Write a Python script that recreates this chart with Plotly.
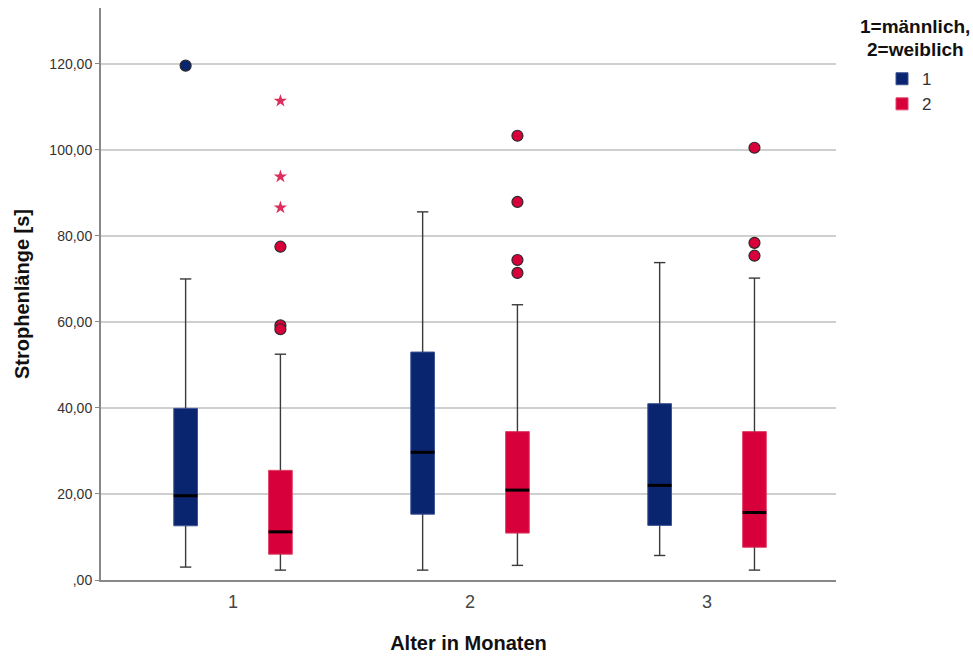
import plotly.graph_objects as go

# Age groups (months) and sex codes
groups = [1, 2, 3]
sex_codes = ["1", "2"]
sex_colors = {"1": "#0A2570", "2": "#D7003A"}
sex_edge = {"1": "#3D5394", "2": "#E04468"}
star_color = "#DD2D5C"

# Box statistics per sex, one entry per age group
lower = {"1": [3.0, 2.3, 5.7], "2": [2.3, 3.4, 2.3]}
q1 = {"1": [12.6, 15.3, 12.7], "2": [6.0, 10.9, 7.6]}
median = {"1": [19.6, 29.7, 22.0], "2": [11.2, 20.9, 15.7]}
q3 = {"1": [39.9, 53.0, 41.0], "2": [25.5, 34.5, 34.5]}
upper = {"1": [70.0, 85.6, 73.8], "2": [52.5, 64.0, 70.2]}

# Outliers (circles) and extreme values (stars)
outliers = {
    "1": [[119.6], [], []],
    "2": [[77.5, 59.2, 58.3], [103.3, 87.9, 74.4, 71.4], [100.5, 78.4, 75.4]],
}
extremes = {
    "1": [[], [], []],
    "2": [[111.4, 93.8, 86.6], [], []],
}

y_ticks = [0, 20, 40, 60, 80, 100, 120]
y_tick_text = [",00", "20,00", "40,00", "60,00", "80,00", "100,00", "120,00"]

offset = {"1": -0.2, "2": 0.2}
box_w = 0.1
cap_half = 0.024

fig = go.Figure()

for s in sex_codes:
    xs = [g + offset[s] for g in groups]
    # whiskers with end caps
    wx, wy = [], []
    for x, lo, a, b, hi in zip(xs, lower[s], q1[s], q3[s], upper[s]):
        wx += [x, x, None, x, x, None, x - cap_half, x + cap_half, None, x - cap_half, x + cap_half, None]
        wy += [lo, a, None, b, hi, None, lo, lo, None, hi, hi, None]
    fig.add_trace(go.Scatter(x=wx, y=wy, mode="lines", line=dict(color="#3a3a3a", width=1.4),
                             showlegend=False, hoverinfo="skip"))
    # box body (q1..q3)
    fig.add_trace(go.Bar(x=xs, y=[b - a for a, b in zip(q1[s], q3[s])], base=q1[s], width=box_w,
                         marker=dict(color=sex_colors[s], line=dict(color=sex_edge[s], width=1)),
                         name=s, showlegend=True))
    # median line
    mx, my = [], []
    for x, m in zip(xs, median[s]):
        mx += [x - box_w / 2, x + box_w / 2, None]
        my += [m, m, None]
    fig.add_trace(go.Scatter(x=mx, y=my, mode="lines", line=dict(color="black", width=3),
                             showlegend=False, hoverinfo="skip"))
    # outliers
    ox, oy = [], []
    for x, vals in zip(xs, outliers[s]):
        ox += [x] * len(vals)
        oy += vals
    fig.add_trace(go.Scatter(x=ox, y=oy, mode="markers",
                             marker=dict(symbol="circle", size=11, color=sex_colors[s],
                                         line=dict(color="#2a2a2a", width=1.2)),
                             showlegend=False))
    # extreme values
    ex, ey = [], []
    for x, vals in zip(xs, extremes[s]):
        ex += [x] * len(vals)
        ey += vals
    if ey:
        fig.add_trace(go.Scatter(x=ex, y=ey, mode="markers",
                                 marker=dict(symbol="star", size=10, color=star_color,
                                             line=dict(width=0)),
                                 showlegend=False))

title_font = dict(size=20, color="#111")
legend_title_font = dict(size=19, color="#111")
fig.update_layout(
    width=973, height=656,
    margin=dict(l=101, r=137, t=8, b=76),
    paper_bgcolor="white", plot_bgcolor="white",
    font=dict(family="Liberation Sans, Arial, sans-serif", color="#222"),
    barmode="overlay",
    legend=dict(x=1.0626, y=0.907, xanchor="left", yanchor="top",
                font=dict(size=17, color="#333"), tracegroupgap=0, itemwidth=30),
    annotations=[
        dict(text="<b>1=männlich,</b>", xref="paper", yref="paper", x=1.1075, y=0.9676,
             xanchor="center", yanchor="middle", showarrow=False, font=legend_title_font),
        dict(text="<b>2=weiblich</b>", xref="paper", yref="paper", x=1.1075, y=0.9268,
             xanchor="center", yanchor="middle", showarrow=False, font=legend_title_font),
    ],
)
fig.update_xaxes(range=[0.443, 3.544], tickvals=groups, ticktext=[str(g) for g in groups],
                 automargin=False,
                 showgrid=False, zeroline=False, showline=True, linecolor="#888", linewidth=2,
                 ticks="", ticklabelstandoff=4, tickfont=dict(size=18, color="#444"),
                 title=dict(text="<b>Alter in Monaten</b>", font=title_font, standoff=25))
fig.update_yaxes(range=[0, 133], tickvals=y_ticks, ticktext=y_tick_text,
                 automargin=False,
                 showgrid=True, gridcolor="#cfcfcf", gridwidth=2, zeroline=False,
                 showline=True, linecolor="#888", linewidth=2,
                 ticks="outside", ticklen=4, tickcolor="#888", tickfont=dict(size=14, color="#333"),
                 title=dict(text="<b>Strophenlänge [s]</b>", font=title_font, standoff=14))

fig.write_html("out.html")
